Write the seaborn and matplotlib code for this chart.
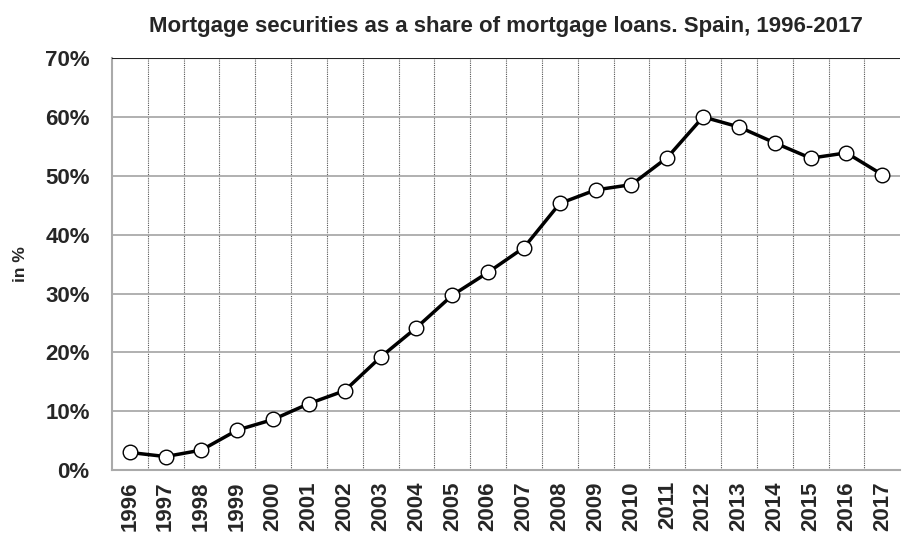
import pandas as pd
import seaborn as sns
import matplotlib.pyplot as plt
from matplotlib.ticker import FixedLocator, PercentFormatter

years = [str(y) for y in range(1996, 2018)]
share = [3.0, 2.3, 3.4, 6.8, 8.6, 11.3, 13.5, 19.2, 24.2, 29.7, 33.6, 37.8,
         45.3, 47.6, 48.5, 53.1, 60.0, 58.3, 55.6, 53.0, 53.9, 50.2]

df = pd.DataFrame({"year": years, "share": share})

sns.set_style("white")
plt.rcParams['font.family'] = ['Liberation Sans', 'DejaVu Sans']

fig = plt.figure(figsize=(9.02, 5.33), dpi=100)
ax = fig.add_axes([0.124, 0.118, 0.874, 0.773])

sns.lineplot(data=df, x="year", y="share", ax=ax, color="black", linewidth=2.5,
             marker="o", markersize=10.5, markerfacecolor="white",
             markeredgecolor="black", markeredgewidth=1.0, zorder=5)

ax.set_xlim(-0.5, len(years) - 0.5)
ax.set_ylim(0, 70)
ax.set_yticks(range(0, 71, 10))
ax.yaxis.set_major_formatter(PercentFormatter(decimals=0))
ax.xaxis.set_minor_locator(FixedLocator([i + 0.5 for i in range(len(years) - 1)]))

# horizontal solid grid, vertical dotted grid between categories
ax.grid(axis="y", which="major", color="#aaaaaa", linewidth=1.3, linestyle="-")
ax.grid(axis="x", which="minor", color="#555555", linewidth=0.8, linestyle=(0, (1, 1)))
ax.grid(axis="x", which="major", visible=False)
ax.axhline(70, color="#222222", linewidth=1.5, zorder=3)

for s in ["top", "right"]:
    ax.spines[s].set_visible(False)
for s in ["left", "bottom"]:
    ax.spines[s].set_color("#aaaaaa")
    ax.spines[s].set_linewidth(1.5)

ax.tick_params(axis="both", which="both", length=0)
ax.tick_params(axis="y", labelsize=16, pad=16)
ax.tick_params(axis="x", labelsize=16, rotation=90, pad=8)
for lab in ax.get_xticklabels() + ax.get_yticklabels():
    lab.set_fontweight("bold")

ax.set_xlabel("")
ax.set_ylabel("in %", fontsize=12.5, fontweight="bold", labelpad=12)
ax.set_title("Mortgage securities as a share of mortgage loans. Spain, 1996-2017",
             fontsize=16, fontweight="bold", pad=19)

fig.savefig("out.png", dpi=100)
